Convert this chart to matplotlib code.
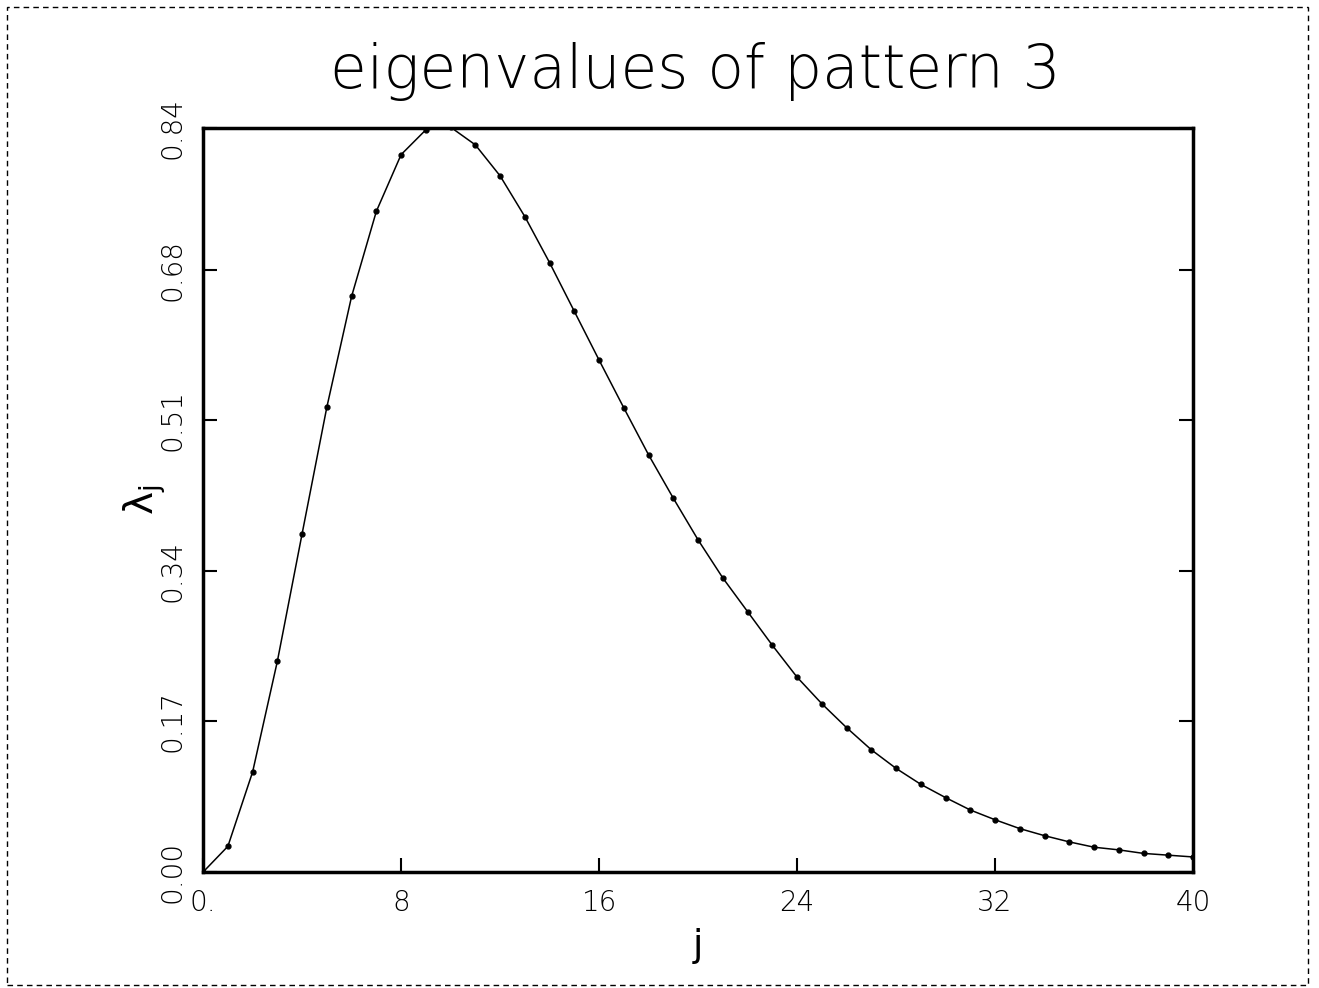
import matplotlib
matplotlib.use("Agg")
import matplotlib.pyplot as plt
from matplotlib.patches import Rectangle

plt.rcParams['font.family'] = 'DejaVu Sans'
plt.rcParams['mathtext.fontset'] = 'dejavusans'

# eigenvalue index and eigenvalues
j = list(range(41))
lam = [0.000, 0.029, 0.113, 0.238, 0.382, 0.525, 0.650, 0.746, 0.810, 0.838,
       0.841, 0.821, 0.786, 0.740, 0.688, 0.633, 0.578, 0.524, 0.471, 0.422,
       0.375, 0.332, 0.294, 0.256, 0.220, 0.190, 0.163, 0.138, 0.117, 0.099,
       0.084, 0.070, 0.059, 0.049, 0.041, 0.034, 0.028, 0.025, 0.021, 0.019,
       0.017]

xticks = [0, 8, 16, 24, 32, 40]
xticklabels = ['0.', '8', '16', '24', '32', '40']
yticks = [0.0, 0.17, 0.34, 0.51, 0.68, 0.84]
yticklabels = ['0.00', '0.17', '0.34', '0.51', '0.68', '0.84']

fig = plt.figure(figsize=(13.19, 9.88), dpi=100)
ax = fig.add_axes([0.154, 0.1174, 0.7505, 0.753])

ax.plot(j, lam, color='black', lw=1.1, marker='o', ms=3.5)

ax.set_xlim(0, 40)
ax.set_ylim(0, 0.84)
ax.set_xticks(xticks)
ax.set_xticklabels(xticklabels, fontsize=20, fontweight='light')
ax.set_yticks(yticks)
ax.set_yticklabels(yticklabels, fontsize=20, fontweight='light', rotation=90, va='center')
ax.tick_params(direction='in', length=10, width=1.5, left=True, right=True,
               bottom=True, top=False, pad=12)
for s in ax.spines.values():
    s.set_linewidth(2.5)

ax.set_xlabel('j', fontsize=27, labelpad=8)
ax.set_ylabel(r'$\mathrm{\lambda}_\mathrm{j}$', fontsize=28)
ax.yaxis.set_label_coords(-0.035, 0.5)
fig.text(0.527, 0.928, 'eigenvalues of pattern 3', fontsize=43, fontweight='light',
         ha='center', va='center')

# page border of the scanned figure
fig.patches.append(Rectangle((0.005, 0.003), 0.987, 0.99, transform=fig.transFigure,
                             fill=False, edgecolor='black', lw=1.0, ls=(0, (4, 3))))

fig.savefig('out.png', dpi=100)
